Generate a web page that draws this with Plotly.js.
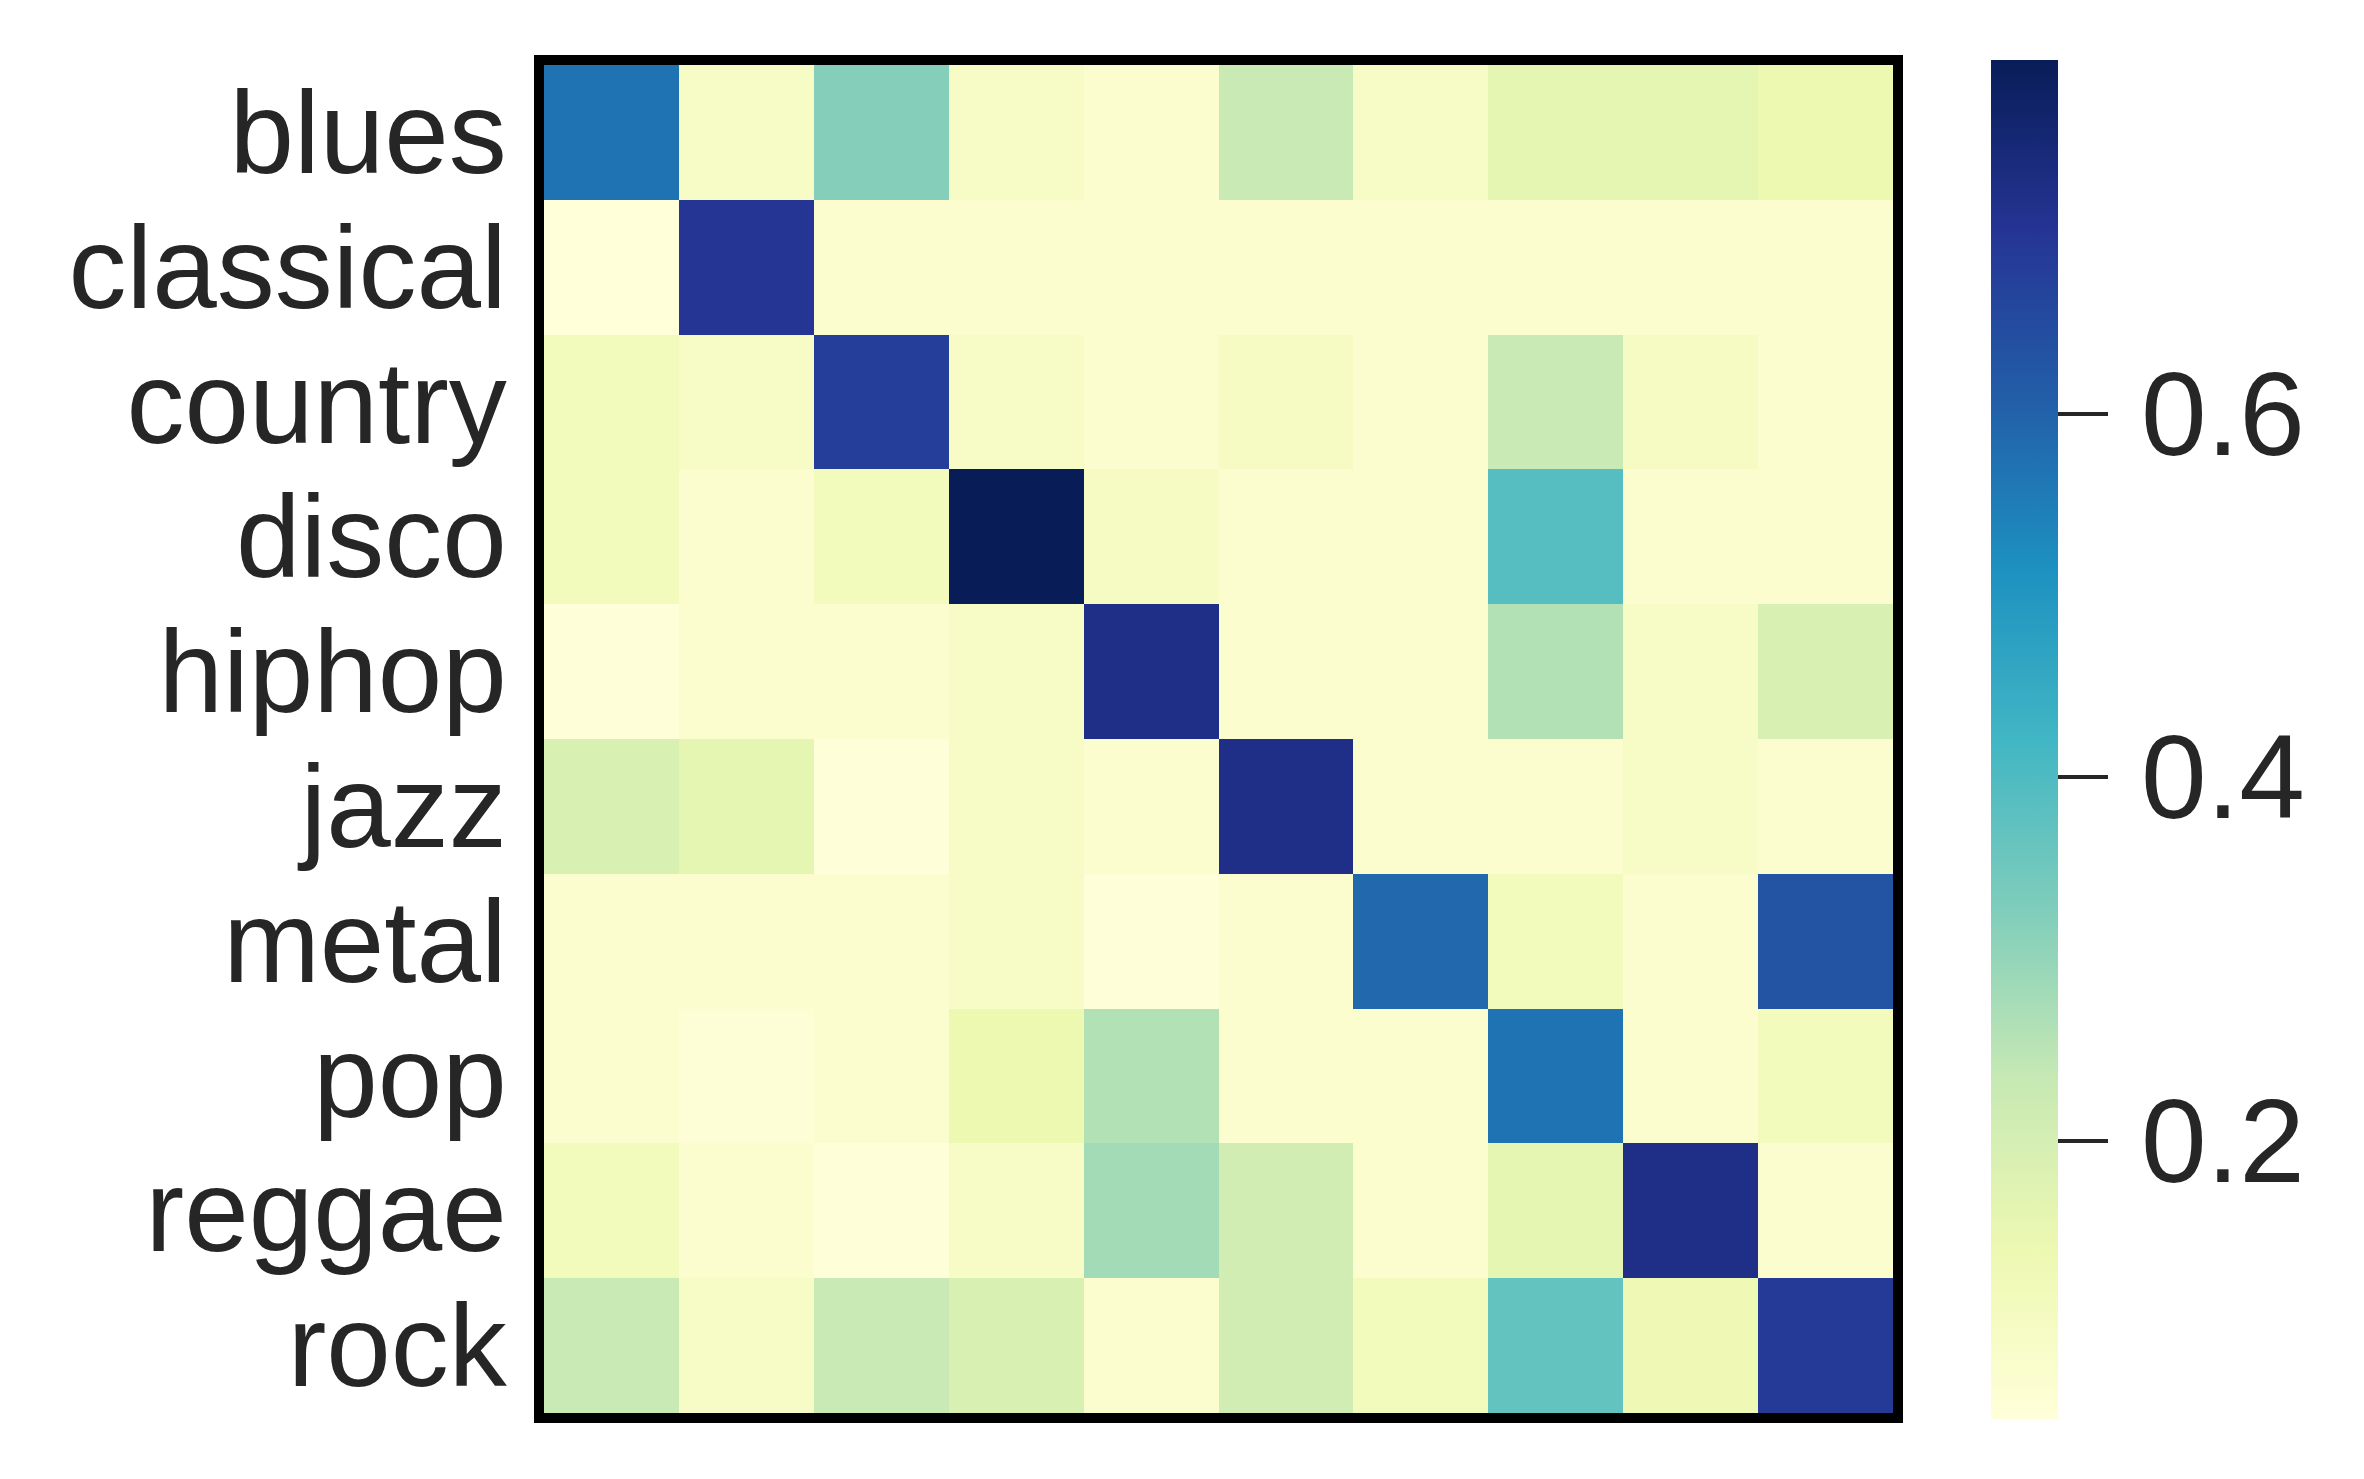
<!DOCTYPE html>
<html>
<head>
<meta charset="utf-8">
<script src="https://cdn.plot.ly/plotly-3.0.1.min.js"></script>
<style>
  html, body { margin: 0; padding: 0; background: #fff; }
  #heat { width: 2364px; height: 1479px; }
</style>
</head>
<body>
<div id="heat"></div>
<script>
var genres = ['blues', 'classical', 'country', 'disco', 'hiphop', 'jazz', 'metal', 'pop', 'reggae', 'rock'];

// one row per true genre, columns in the same order
var blues     = [0.57, 0.09, 0.32, 0.09, 0.07, 0.23, 0.09, 0.16, 0.16, 0.14];
var classical = [0.048, 0.70, 0.07, 0.07, 0.07, 0.07, 0.07, 0.07, 0.07, 0.07];
var country   = [0.115, 0.09, 0.68, 0.09, 0.07, 0.10, 0.07, 0.23, 0.10, 0.07];
var disco     = [0.115, 0.07, 0.115, 0.795, 0.10, 0.07, 0.07, 0.39, 0.07, 0.07];
var hiphop    = [0.05, 0.07, 0.07, 0.09, 0.72, 0.07, 0.07, 0.26, 0.09, 0.19];
var jazz      = [0.19, 0.16, 0.05, 0.09, 0.07, 0.72, 0.07, 0.07, 0.09, 0.07];
var metal     = [0.07, 0.07, 0.07, 0.09, 0.05, 0.07, 0.59, 0.115, 0.07, 0.63];
var pop       = [0.07, 0.055, 0.07, 0.14, 0.26, 0.07, 0.07, 0.57, 0.07, 0.115];
var reggae    = [0.115, 0.07, 0.05, 0.09, 0.28, 0.21, 0.07, 0.16, 0.72, 0.07];
var rock      = [0.23, 0.09, 0.23, 0.19, 0.07, 0.21, 0.115, 0.37, 0.13, 0.69];

var cbTicks = [0.2, 0.4, 0.6];

// matplotlib YlGnBu
var ylgnbu = [
  [0.0, '#ffffd9'], [0.125, '#edf8b1'], [0.25, '#c7e9b4'],
  [0.375, '#7fcdbb'], [0.5, '#41b6c4'], [0.625, '#1d91c0'],
  [0.75, '#225ea8'], [0.875, '#253494'], [1.0, '#081d58']
];

var z = [blues, classical, country, disco, hiphop, jazz, metal, pop, reggae, rock];

var trace = {
  type: 'heatmap',
  z: z,
  x: genres,
  y: genres,
  colorscale: ylgnbu,
  zmin: 0.047,
  zmax: 0.795,
  xgap: 0, ygap: 0,
  hoverinfo: 'skip',
  colorbar: {
    thickness: 67,
    len: 1359,
    lenmode: 'pixels',
    xpad: 0,
    ypad: 0,
    x: 1.0726,
    xanchor: 'left',
    y: 0.5,
    yanchor: 'middle',
    outlinewidth: 0,
    tickmode: 'array',
    tickvals: cbTicks,
    // hair space nudges the labels a little further from the ticks
    ticktext: cbTicks.map(function(v) { return '\u200A' + v.toFixed(1); }),
    ticks: 'outside',
    ticklen: 50,
    tickwidth: 4,
    tickcolor: '#262626',
    tickfont: { family: 'Liberation Sans, Arial, sans-serif', size: 118, color: '#262626' }
  }
};

var layout = {
  width: 2364,
  height: 1479,
  margin: { l: 544, r: 471, t: 65, b: 66 },
  paper_bgcolor: '#ffffff',
  plot_bgcolor: '#ffffff',
  xaxis: {
    showticklabels: false,
    ticks: '',
    showgrid: false,
    zeroline: false,
    showline: true,
    mirror: true,
    linecolor: '#000000',
    linewidth: 10
  },
  yaxis: {
    autorange: 'reversed',
    tickmode: 'array',
    tickvals: genres,
    ticktext: genres,
    ticks: '',
    showgrid: false,
    zeroline: false,
    showline: true,
    mirror: true,
    linecolor: '#000000',
    linewidth: 10,
    ticklabelstandoff: 4,
    tickfont: { family: 'Liberation Sans, Arial, sans-serif', size: 116, color: '#262626' }
  }
};

Plotly.newPlot('heat', [trace], layout, { displayModeBar: false, staticPlot: true });
</script>
</body>
</html>
